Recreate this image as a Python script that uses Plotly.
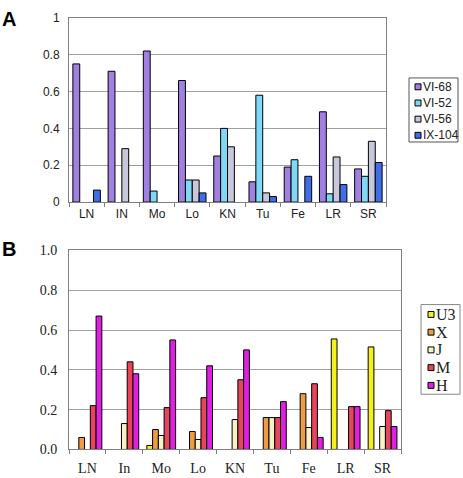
import plotly.graph_objects as go

# ---- Panel A data ----
cats_a = ["LN", "IN", "Mo", "Lo", "KN", "Tu", "Fe", "LR", "SR"]
vi68 = [0.75, 0.71, 0.82, 0.66, 0.25, 0.11, 0.19, 0.49, 0.18]
vi52 = [None, None, 0.06, 0.12, 0.40, 0.58, 0.23, 0.045, 0.14]
vi56 = [None, 0.29, None, 0.12, 0.30, 0.05, None, 0.245, 0.33]
ix104 = [0.065, None, None, 0.05, None, 0.03, 0.14, 0.095, 0.215]
ticks_a = [0, 0.2, 0.4, 0.6, 0.8, 1]
ticklabels_a = ["0", "0.2", "0.4", "0.6", "0.8", "1"]

# ---- Panel B data ----
cats_b = ["LN", "In", "Mo", "Lo", "KN", "Tu", "Fe", "LR", "SR"]
u3 = [None, None, 0.02, None, None, None, None, 0.555, 0.515]
xh = [0.06, None, 0.10, 0.09, None, 0.16, 0.28, None, None]
jh = [None, 0.13, 0.07, 0.05, 0.15, 0.16, 0.11, None, 0.115]
mh = [0.22, 0.44, 0.21, 0.26, 0.35, 0.16, 0.33, 0.215, 0.195]
hh = [0.67, 0.38, 0.55, 0.42, 0.50, 0.24, 0.06, 0.215, 0.115]
ticks_b = [0, 0.2, 0.4, 0.6, 0.8, 1.0]
ticklabels_b = ["0.0", "0.2", "0.4", "0.6", "0.8", "1.0"]

W, H = 463, 486      # figure size (viewer shows it squeezed to 478 px tall)
REF_H = 478          # layout positions below are given in reference pixels
SANS = "Liberation Sans, Arial, sans-serif"
SERIF = "Liberation Serif, Times New Roman, serif"
GRID = "#a0a0a0"
AXIS = "#808080"

fig = go.Figure()

series_a = [("VI-68", vi68, "#a080e0"), ("VI-52", vi52, "#80d8f4"),
            ("VI-56", vi56, "#c8c8dc"), ("IX-104", ix104, "#3f6ee6")]
for name, vals, col in series_a:
    fig.add_trace(go.Bar(x=cats_a, y=vals, name=name, xaxis="x", yaxis="y",
                         marker=dict(color=col, line=dict(color="black", width=1)),
                         showlegend=False))

series_b = [("U3", u3, "#f4f01c"), ("X", xh, "#f09a44"), ("J", jh, "#f6f4c4"),
            ("M", mh, "#e8445c"), ("H", hh, "#e020e0")]
for name, vals, col in series_b:
    fig.add_trace(go.Bar(x=cats_b, y=vals, name=name, xaxis="x2", yaxis="y2",
                         marker=dict(color=col, line=dict(color="black", width=1)),
                         showlegend=False))


def px(v):
    return v / W


def py(v):
    return 1 - v / REF_H


shapes = []
annotations = []


def legend_box(series, box, y0, step, sw_x, font, border):
    x0b, x1b, y0b, y1b = box
    shapes.append(dict(type="rect", xref="paper", yref="paper",
                       x0=px(x0b), x1=px(x1b), y0=py(y1b), y1=py(y0b),
                       line=dict(color=border, width=1), fillcolor="white", layer="above"))
    for i, (name, _, col) in enumerate(series):
        yc = y0 + i * step
        shapes.append(dict(type="rect", xref="paper", yref="paper",
                           x0=px(sw_x), x1=px(sw_x + 6), y0=py(yc + 3), y1=py(yc - 3),
                           line=dict(color="black", width=1), fillcolor=col, layer="above"))
        annotations.append(dict(text=name, x=px(sw_x + 6.5), y=py(yc), xref="paper", yref="paper",
                                xanchor="left", yanchor="middle", showarrow=False,
                                font=font, borderpad=0))


legend_box(series_a, (409, 458, 72, 137), 81, 16.4, 415,
           dict(family=SANS, size=12, color="#222"), "#555")
legend_box(series_b, (421, 460, 302, 393), 312, 18, 428,
           dict(family=SERIF, size=16, color="#222"), "#888")

annotations += [
    dict(text="<b>A</b>", x=px(9), y=py(12), xref="paper", yref="paper",
         xanchor="center", yanchor="middle",
         showarrow=False, font=dict(family=SANS, size=20, color="black")),
    dict(text="<b>B</b>", x=px(9), y=py(246), xref="paper", yref="paper",
         xanchor="center", yanchor="middle",
         showarrow=False, font=dict(family=SANS, size=20, color="black")),
]

common_x = dict(type="category", showline=True, linecolor=AXIS, linewidth=1, mirror=True,
                ticks="outside", tickson="boundaries", ticklen=4, tickcolor=AXIS,
                showgrid=False, zeroline=False)
common_y = dict(showline=True, linecolor=AXIS, linewidth=1, mirror=True, ticks="",
                showgrid=True, gridcolor=GRID, gridwidth=1, zeroline=False)

fig.update_layout(
    width=W, height=H, margin=dict(l=0, r=0, t=0, b=0),
    paper_bgcolor="white", plot_bgcolor="white",
    barmode="group", bargap=0.22, bargroupgap=0,
    showlegend=False,
    xaxis=dict(domain=[px(69), px(386)], anchor="y", ticklabelstandoff=0,
               tickfont=dict(family=SANS, size=12, color="#222"), **common_x),
    yaxis=dict(domain=[py(198), py(11)], anchor="x", range=[0, 1],
               tickvals=ticks_a, ticktext=ticklabels_a, ticklabelstandoff=6,
               tickfont=dict(family=SANS, size=12, color="#222"), **common_y),
    xaxis2=dict(domain=[px(69), px(401)], anchor="y2", ticklabelstandoff=6,
                tickfont=dict(family=SERIF, size=14, color="#222"), **common_x),
    yaxis2=dict(domain=[py(449), py(247)], anchor="x2", range=[0, 1],
                tickvals=ticks_b, ticktext=ticklabels_b, ticklabelstandoff=8,
                tickfont=dict(family=SERIF, size=14, color="#222"), **common_y),
    shapes=shapes,
    annotations=annotations,
)

fig.write_html("out.html", config={"displayModeBar": False},
               post_script="document.body.style.margin='0';document.body.style.overflow='hidden';")
